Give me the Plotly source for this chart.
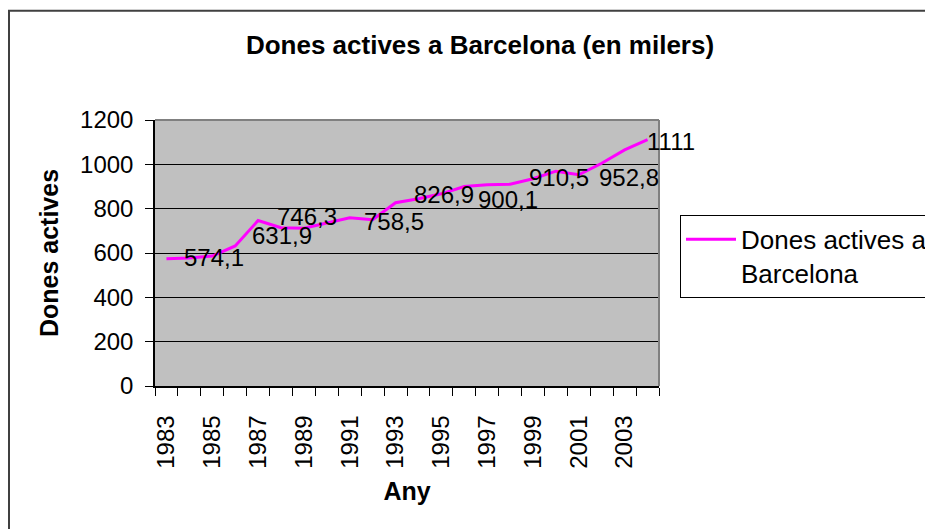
import plotly.graph_objects as go

# ---- data ----
years = list(range(1983, 2005))
values = [574.1, 578, 586, 631.9, 746.3, 714, 712, 735, 758.5, 750, 826.9,
          845, 867, 900.1, 908, 910.5, 935, 969, 952.8, 1005, 1065, 1111]
label_years = [1983, 1986, 1987, 1991, 1993, 1996, 1998, 2001, 2004]
x_tick_years = [1983, 1985, 1987, 1989, 1991, 1993, 1995, 1997, 1999, 2001, 2003]
y_ticks = [0, 200, 400, 600, 800, 1000, 1200]

series_name = "Dones actives a<br>Barcelona"
title_text = "Dones actives a Barcelona (en milers)"
x_title = "Any"
y_title = "Dones actives"

# ---- layout geometry (pixels, page coordinates) ----
OFF = 8                      # default page margin around the figure
PAGE_W, PAGE_H = 933, 529
W, H = PAGE_W - OFF, PAGE_H - OFF
L, R, T, B = 155 - OFF, 659 - OFF, 120 - OFF, 386.5 - OFF
FONT = "Liberation Sans, Arial, sans-serif"

def px_x(p):
    return (p - OFF - L) / (R - L)

def px_y(p):
    return (B - (p - OFF)) / (B - T)

# label nudges (pixels), layout only
label_nudge = {1983: (16, 1), 1986: (15, 10), 1987: (17, 4), 1991: (12, -4),
               1993: (16, 8), 1996: (12, -13), 1998: (17, 7), 2001: (18, -3),
               2004: (-3, -2)}

def fmt(v):
    return str(int(v)) if float(v).is_integer() else f"{v:.1f}".replace(".", ",")

fig = go.Figure()
fig.add_trace(go.Scatter(
    x=years, y=values, mode="lines", name=series_name,
    line=dict(color="#FF00FF", width=3),
))

annotations = []
for yr in label_years:
    v = values[years.index(yr)]
    dx, dy = label_nudge.get(yr, (16, 0))
    annotations.append(dict(
        x=yr, y=v, xref="x", yref="y", text=fmt(v), showarrow=False,
        xanchor="left", yanchor="middle", xshift=dx, yshift=dy,
        font=dict(family=FONT, size=24, color="black"),
    ))

shapes = [
    # outer chart frame (only top/left visible)
    dict(type="rect", xref="paper", yref="paper",
         x0=px_x(9), x1=px_x(960), y0=px_y(10.5), y1=px_y(560),
         line=dict(color="#404040", width=2), fillcolor="rgba(0,0,0,0)", layer="below"),
    # plot area top and right border
    dict(type="line", xref="paper", yref="paper", x0=0, x1=1, y0=1, y1=1,
         line=dict(color="#808080", width=2), layer="above"),
    dict(type="line", xref="paper", yref="paper", x0=1, x1=1, y0=0, y1=1,
         line=dict(color="#808080", width=2), layer="above"),
]

fig.update_layout(
    width=W, height=H,
    margin=dict(l=L, r=W - R, t=T, b=H - B, autoexpand=False),
    paper_bgcolor="white",
    plot_bgcolor="#C0C0C0",
    font=dict(family=FONT, size=24, color="black"),
    title=dict(text=title_text, x=(480 - OFF) / W, xanchor="center", xref="container",
               y=1 - (45 - OFF) / H, yanchor="middle", yref="container",
               font=dict(family=FONT, size=26, color="black", weight="bold")),
    showlegend=True,
    legend=dict(x=px_x(680), y=px_y(215), xanchor="left", yanchor="top",
                bgcolor="white", bordercolor="black", borderwidth=1,
                font=dict(family=FONT, size=26, color="black"),
                valign="top", itemwidth=50, tracegroupgap=0),
    annotations=annotations,
    shapes=shapes,
)

fig.update_xaxes(
    range=[1982.5, 2004.5],
    tickmode="array", tickvals=x_tick_years, ticktext=[str(y) for y in x_tick_years],
    tickangle=-90, ticks="", ticklabelstandoff=18,
    tickfont=dict(family=FONT, size=24, color="black"),
    minor=dict(tickmode="array", tickvals=[y + 0.5 for y in range(1982, 2005)],
               ticks="outside", ticklen=8, tickcolor="black", tickwidth=1, showgrid=False),
    showgrid=False, zeroline=False,
    showline=True, linecolor="black", linewidth=1.5,
    automargin=False,
    title=dict(text=x_title, standoff=15,
               font=dict(family=FONT, size=25, color="black", weight="bold")),
)

fig.update_yaxes(
    range=[0, 1200], tickmode="array", tickvals=y_ticks,
    ticks="outside", ticklen=8, tickcolor="black", tickwidth=1,
    ticklabelstandoff=7,
    tickfont=dict(family=FONT, size=24, color="black"),
    showgrid=True, gridcolor="black", gridwidth=1,
    zeroline=False, showline=True, linecolor="black", linewidth=1.5,
    automargin=False,
    title=dict(text=y_title, standoff=14,
               font=dict(family=FONT, size=25, color="black", weight="bold")),
)

fig.write_html("out.html")
